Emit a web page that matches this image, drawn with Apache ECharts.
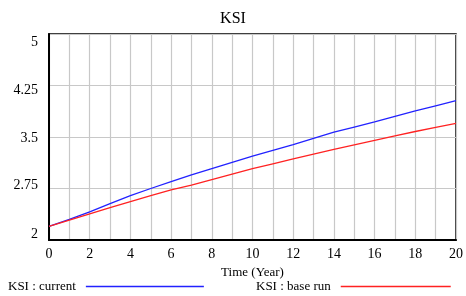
<!DOCTYPE html>
<html><head><meta charset="utf-8">
<script src="https://cdn.jsdelivr.net/npm/echarts@6/dist/echarts.min.js"></script>
<style>html,body{margin:0;padding:0;background:#fff}#c{width:466px;height:296px}</style>
</head><body><div id="c"></div>
<script>
const years = [0,1,2,3,4,5,6,7,8,9,10,11,12,13,14,15,16,17,18,19,20];
const ksiCurrent = [2.2,2.30,2.41,2.53,2.645,2.75,2.85,2.95,3.04,3.13,3.22,3.305,3.39,3.48,3.57,3.645,3.72,3.80,3.88,3.955,4.03];
const ksiBase = [2.2,2.29,2.38,2.47,2.56,2.645,2.73,2.80,2.88,2.96,3.04,3.11,3.18,3.25,3.32,3.385,3.45,3.515,3.58,3.64,3.70];
const yTicks = [2, 2.75, 3.5, 4.25, 5];
const xLabels = ['0','2','4','6','8','10','12','14','16','18','20'];
const seriesNames = ['KSI : current', 'KSI : base run'];
const font = 'Liberation Serif';

const chart = echarts.init(document.getElementById('c'));
const yStyle = {2:'o0', 2.75:'o1', 3.5:'o2', 4.25:'o3', 5:'o4'};
chart.setOption({
  animation: false,
  title: { text: 'KSI', left: 'center', top: 6, textStyle: { fontFamily: font, fontSize: 16, fontWeight: 'normal', color: '#000' } },
  legend: [
    { data: [seriesNames[0]], left: 3, top: 275, align: 'right', icon: 'rect', itemWidth: 118, itemHeight: 1.5,
      textStyle: { fontFamily: font, fontSize: 13, color: '#000', padding: [0, 5, 0, 0] } },
    { data: [seriesNames[1]], left: 251, top: 275, align: 'right', icon: 'rect', itemWidth: 110, itemHeight: 1.5,
      textStyle: { fontFamily: font, fontSize: 13, color: '#000', padding: [0, 5, 0, 0] } }
  ],
  grid: { left: 49, right: 6, top: 34, bottom: 56, show: true, borderColor: '#000', borderWidth: 1.5 },
  xAxis: {
    type: 'value', min: 0, max: 20, interval: 1,
    name: 'Time (Year)', nameLocation: 'middle', nameGap: 26,
    nameTextStyle: { fontFamily: font, fontSize: 13, color: '#000' },
    axisLine: { lineStyle: { color: '#000', width: 2 } },
    axisTick: { show: false },
    axisLabel: { margin: 7, fontFamily: font, fontSize: 14, color: '#000',
      formatter: v => xLabels.indexOf(String(v)) >= 0 ? String(v) : '' },
    splitLine: { lineStyle: { color: '#c8c8c8', width: 1.2 } }
  },
  yAxis: {
    type: 'value', min: 2, max: 5, interval: 0.75,
    axisLine: { show: true, lineStyle: { color: '#000', width: 2 } },
    axisTick: { show: false },
    axisLabel: { margin: 11, fontFamily: font, fontSize: 14, color: '#000',
      formatter: v => yTicks.indexOf(v) >= 0 ? '{' + yStyle[v] + '|' + v + '}' : '',
      rich: {
        o0: { fontFamily: font, fontSize: 14, color: '#000', padding: [0,0,12,0] },
        o1: { fontFamily: font, fontSize: 14, color: '#000', padding: [0,0,6,0] },
        o2: { fontFamily: font, fontSize: 14, color: '#000', padding: [2,0,0,0] },
        o3: { fontFamily: font, fontSize: 14, color: '#000', padding: [10,0,0,0] },
        o4: { fontFamily: font, fontSize: 14, color: '#000', padding: [16,0,0,0] }
      } },
    splitLine: { lineStyle: { color: '#c8c8c8', width: 1.2 } }
  },
  series: [
    { name: seriesNames[0], type: 'line', data: years.map((t,i)=>[t, ksiCurrent[i]]), showSymbol: false, symbol: 'none',
      lineStyle: { color: '#2222ff', width: 1.3 }, itemStyle: { color: '#2222ff' } },
    { name: seriesNames[1], type: 'line', data: years.map((t,i)=>[t, ksiBase[i]]), showSymbol: false, symbol: 'none',
      lineStyle: { color: '#ff2222', width: 1.3 }, itemStyle: { color: '#ff2222' } }
  ]
});
</script></body></html>
